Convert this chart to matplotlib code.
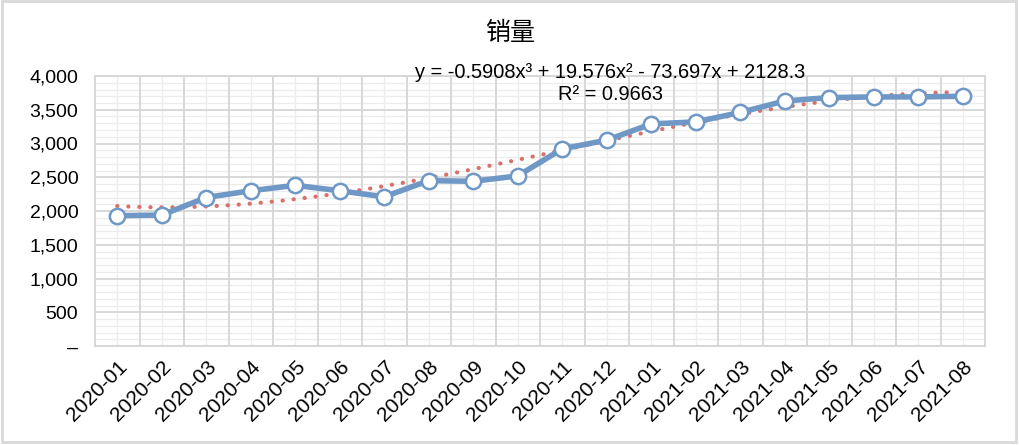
import numpy as np
import matplotlib.pyplot as plt
from matplotlib.patches import Rectangle
from matplotlib.ticker import FixedLocator, MultipleLocator, FuncFormatter

plt.rcParams['font.family'] = ['Liberation Sans', 'Noto Sans CJK SC', 'DejaVu Sans']

# data
months = ['2020-01', '2020-02', '2020-03', '2020-04', '2020-05', '2020-06', '2020-07',
          '2020-08', '2020-09', '2020-10', '2020-11', '2020-12', '2021-01', '2021-02',
          '2021-03', '2021-04', '2021-05', '2021-06', '2021-07', '2021-08']
sales = [1930, 1940, 2200, 2300, 2380, 2300, 2210, 2450, 2440, 2520,
         2920, 3050, 3290, 3320, 3460, 3630, 3680, 3690, 3690, 3700]
# trendline coefficients shown on the chart (poly order 3)
trend_coef = [-0.5908, 19.576, -73.697, 2128.3]
r2 = 0.9663

blue = '#6f98c6'
red = '#d9706b'
grid_major = '#d6d6d6'
grid_minor = '#ececec'

fig = plt.figure(figsize=(10.19, 4.45), dpi=100)
ax = fig.add_axes([95 / 1019, 99 / 445, 890 / 1019, 270 / 445])

x = np.arange(1, len(months) + 1)
xs = np.linspace(1, len(months), 200)
ax.plot(xs, np.polyval(trend_coef, xs), color=red, lw=3, ls=(0, (0.05, 2.6)),
        dash_capstyle='round', zorder=3)
ax.plot(x, sales, color=blue, lw=4, marker='o', ms=11, mfc='white',
        mec=blue, mew=1.8, zorder=4)

ax.set_xlim(0.5, len(months) + 0.5)
ax.set_ylim(0, 4000)

# gridlines: major at category boundaries / every 500, minor at centres / every 100
ax.xaxis.set_major_locator(FixedLocator(x))
ax.yaxis.set_major_locator(MultipleLocator(500))
ax.grid(False)
for b in np.arange(0.5, len(months) + 1, 1):
    ax.axvline(b, color=grid_major, lw=1.3, zorder=1)
for c in x:
    ax.axvline(c, color=grid_minor, lw=0.9, zorder=0.5)
for v in np.arange(0, 4001, 100):
    if v % 500 == 0:
        ax.axhline(v, color=grid_major, lw=1.3, zorder=1)
    else:
        ax.axhline(v, color=grid_minor, lw=0.9, zorder=0.5)

ax.yaxis.set_major_formatter(FuncFormatter(lambda v, p: '–' if v == 0 else f'{int(v):,}'))
ax.set_xticks(x)
ax.set_xticklabels(months, rotation=45, ha='right', rotation_mode='anchor', fontsize=15)
ax.tick_params(axis='y', labelsize=14, length=0, pad=12)
ax.tick_params(axis='x', length=0, pad=8)
for s in ax.spines.values():
    s.set_color(grid_major)
    s.set_linewidth(1.3)

fig.text(510 / 1019, 1 - 33 / 445, '销量', ha='center', va='center', fontsize=18,
         family=['Noto Sans CJK SC', 'DejaVu Sans'])
fig.text(610 / 1019, 1 - 84 / 445,
         'y = -0.5908x³ + 19.576x² - 73.697x + 2128.3\nR² = %.4f' % r2,
         ha='center', va='center', fontsize=14.4, linespacing=1.2)

fig.patches.append(Rectangle((2 / 1019, 3 / 445), 1014 / 1019, 441 / 445,
                             transform=fig.transFigure, fill=False,
                             ec='#d9d9d9', lw=2))

fig.savefig('out.png', dpi=100)
